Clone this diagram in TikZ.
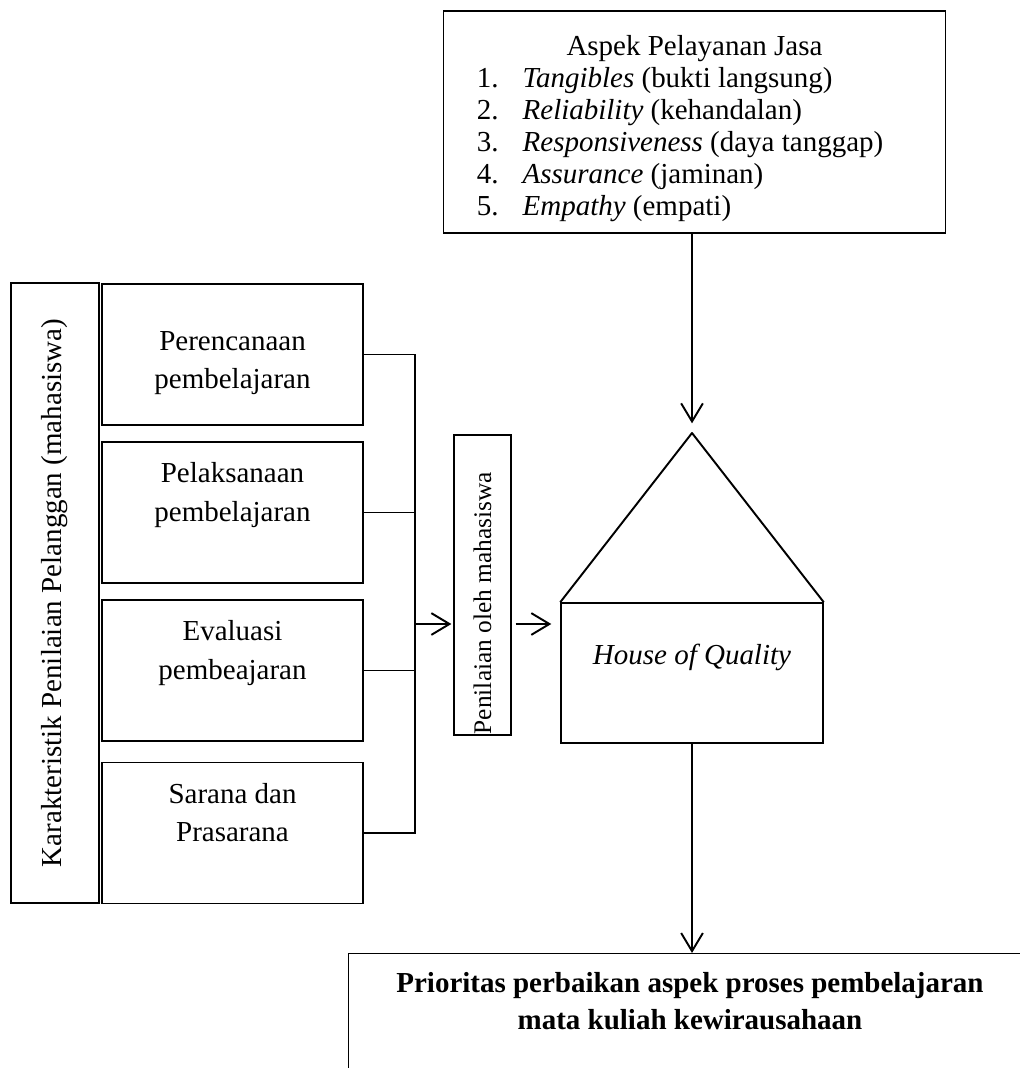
\documentclass[tikz,border=0pt]{standalone}
\usepackage{fontspec}
\setmainfont{Liberation Serif}
\usetikzlibrary{arrows.meta}

\tikzset{
  box/.style={draw, line width=0.6pt, inner sep=0pt, align=center},
  itembox/.style={box, minimum width=108pt, minimum height=58.4pt,
    font=\fontsize{12}{16}\selectfont},
  itemboxtop/.style={itembox, text depth=17pt},
  link/.style={line width=0.8pt},
  flow/.style={link, -{Straight Barb[length=7.5pt, width=9pt, line width=0.8pt]}},
}

\begin{document}
\begin{tikzpicture}[x=0.414pt, y=-0.414pt, font=\fontsize{12}{13.2}\selectfont]
  \useasboundingbox (0,0) rectangle (1019,1068);

  % --- Aspek pelayanan jasa (atas) ---
  \node[box, minimum width=208pt, minimum height=92pt] (aspek) at (694.5,122)
    {\rule{0pt}{15pt}Aspek Pelayanan Jasa\\
     \begin{tabular}[t]{@{}p{19pt}@{}l@{}}
       1. & \textit{Tangibles} (bukti langsung)\\
       2. & \textit{Reliability} (kehandalan)\\
       3. & \textit{Responsiveness} (daya tanggap)\\
       4. & \textit{Assurance} (jaminan)\\
       5. & \textit{Empathy} (empati)
     \end{tabular}\hspace*{12pt}};

  % --- Karakteristik penilaian pelanggan ---
  \node[box, rotate=90, minimum width=256.7pt, minimum height=36.4pt] (karakter) at (55,593)
    {Karakteristik Penilaian Pelanggan (mahasiswa)};
  \node[itembox] (perencanaan) at (232.5,354.5) {\rule{0pt}{15pt}Perencanaan\\pembelajaran};
  \node[itemboxtop] (pelaksanaan) at (232.5,512.5) {Pelaksanaan\\pembelajaran};
  \node[itemboxtop] (evaluasi) at (232.5,670.5) {Evaluasi\\pembeajaran};
  \node[itemboxtop] (sarana) at (232.5,833) {Sarana dan\\Prasarana};

  % --- Garis penghubung ke penilaian ---
  \coordinate (bus) at (415,0);
  \coordinate (join) at (415,624);
  \draw[link] (perencanaan.east) -- (perencanaan.east -| bus) -- (sarana.east -| bus) -- (sarana.east);
  \draw[link] (pelaksanaan.east) -- (pelaksanaan.east -| bus);
  \draw[link] (evaluasi.east) -- (evaluasi.east -| bus);

  \node[box, rotate=90, minimum width=124.2pt, minimum height=23.6pt,
    font=\fontsize{10.5}{12}\selectfont] (penilaian) at (482.5,585)
    {Penilaian oleh mahasiswa\hspace*{15pt}};
  \draw[flow, shorten >=0.8pt] (join) -- (penilaian.north |- join);

  % --- House of Quality ---
  \node[box, minimum width=108.5pt, minimum height=58pt] (hoq) at (692,673) {};
  \node (hoqlabel) at ([yshift=6.6pt]hoq.center) {\textit{House of Quality}};
  \coordinate (apex) at (692,433);
  \draw[link, line join=round] (hoq.north west) -- (apex) -- (hoq.north east);

  \draw[flow, shorten <=1.6pt, shorten >=3.7pt] (penilaian.south |- join) -- (hoq.west |- join);
  \draw[flow, shorten >=4pt] (apex |- aspek.south) -- (apex);

  % --- Prioritas perbaikan (bawah) ---
  \node[box, anchor=north west, minimum width=300pt, minimum height=60pt] (prio) at (348,953) {};
  \node[font=\bfseries\fontsize{12}{15}\selectfont, align=center] (priotext) at (690,1001)
    {Prioritas perbaikan aspek proses pembelajaran\\
     mata kuliah kewirausahaan};
  \draw[flow] (hoq.south) -- (hoq.south |- prio.north);
\end{tikzpicture}
\end{document}
